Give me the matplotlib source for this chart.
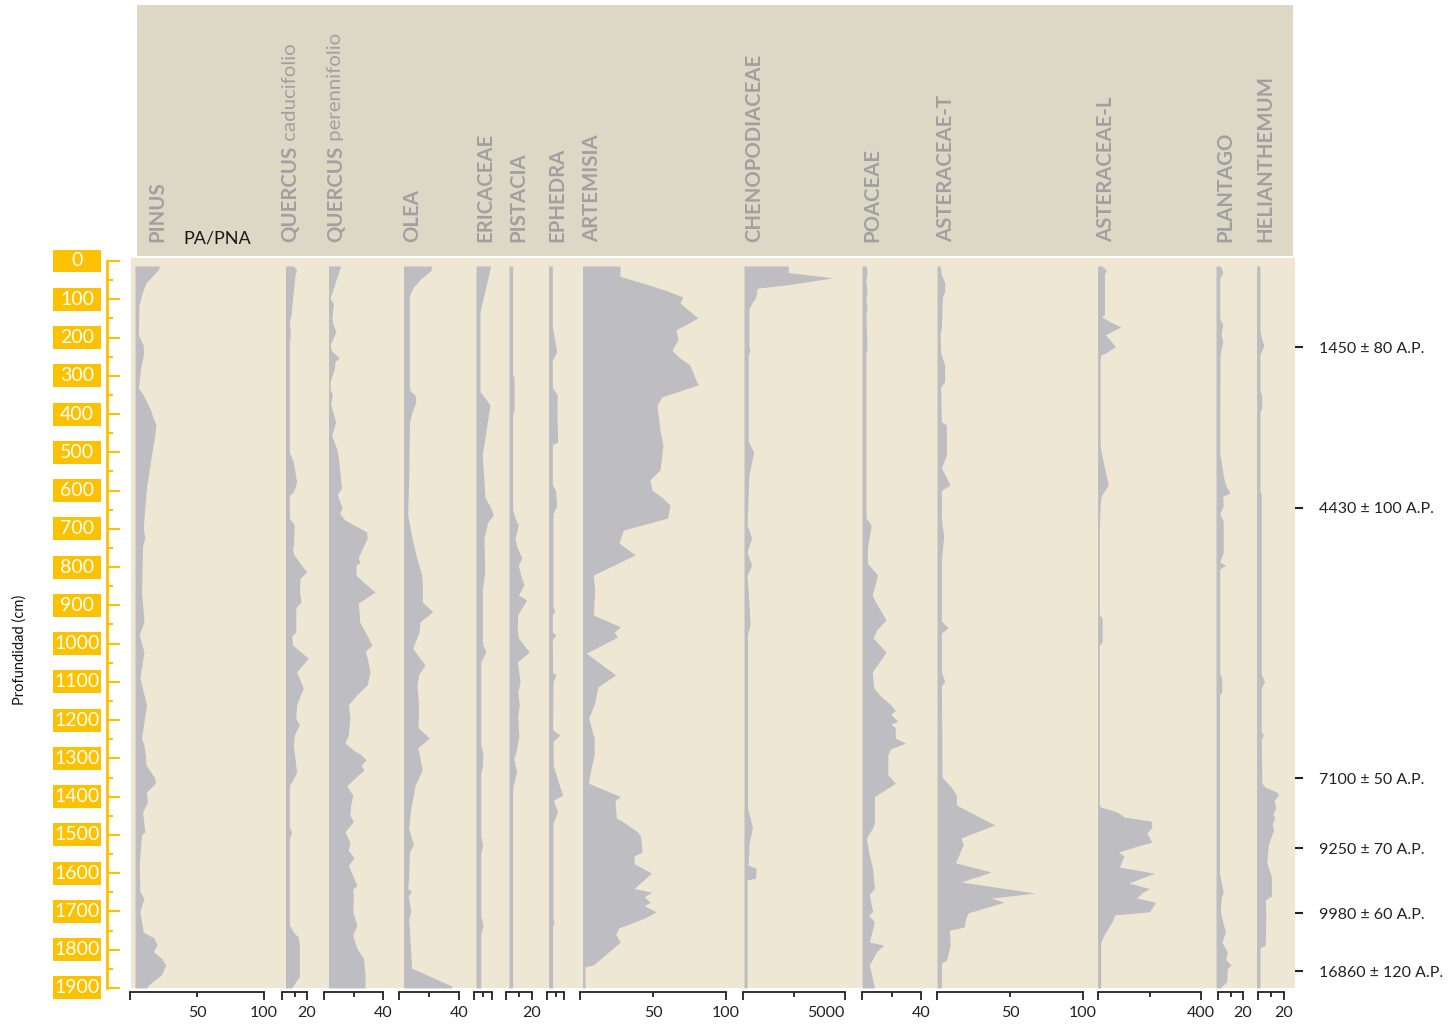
import numpy as np
import matplotlib.pyplot as plt

plt.rcParams['font.family'] = ['Lato', 'DejaVu Sans']

# (depth cm, value)
pinus = [(13, 22), (23, 21), (57, 12), (80, 9.4), (115, 6.7), (193, 6.2), (220, 9.9), (246, 10),
         (280, 7.9), (332, 6.2), (350, 9.9), (385, 14.8), (428, 19.3), (455, 18.5), (507, 16),
         (593, 12.3), (664, 10.6), (698, 9.9), (724, 11.1), (745, 9.4), (865, 8.6), (943, 10.4),
         (977, 6.9), (1022, 10.4), (1090, 7.4), (1160, 12.3), (1247, 8.6), (1265, 10.4), (1291, 11.5),
         (1317, 11.8), (1351, 18.5), (1365, 19), (1388, 12.3), (1414, 13), (1440, 9.4), (1492, 11.1),
         (1500, 8.6), (1579, 6.9), (1649, 7.4), (1665, 10.4), (1701, 7.4), (1754, 9.9), (1769, 17.8),
         (1788, 20.2), (1805, 17.3), (1822, 23.4), (1840, 26.7), (1866, 23.4), (1893, 13.6), (1900, 13)]
quercus_cad = [(13, 9.1), (23, 11.7), (35, 10.4), (141, 7.2), (160, 5.9), (186, 6.6), (200, 6.4),
               (215, 5.9), (500, 5.9), (526, 9.1), (578, 11.7), (604, 9.1), (612, 5.9), (672, 5.9),
               (690, 9.9), (742, 9.1), (755, 8.5), (768, 9.5), (813, 19.7), (830, 14.4), (865, 14),
               (891, 15.2), (907, 11), (970, 11), (980, 7.8), (1004, 8.5), (1038, 21), (1074, 11.7),
               (1116, 17), (1160, 11.7), (1195, 11), (1212, 13.9), (1239, 9.9), (1265, 9.1), (1336, 11.7),
               (1362, 7.7), (1370, 5.9), (1480, 5.9), (1492, 7.7), (1510, 5.9), (1736, 5.9), (1754, 9.1),
               (1767, 13), (1790, 13.9), (1870, 13.9), (1893, 9.1), (1900, 8)]
quercus_per = [(13, 11.3), (97, 4.1), (110, 6.3), (149, 5.4), (165, 6), (185, 8.1), (220, 4.1),
               (235, 5.2), (254, 10.4), (262, 7.5), (280, 7.1), (316, 4.1), (335, 4.1), (350, 5.6),
               (375, 4.5), (421, 7.9), (455, 5.2), (489, 8.4), (510, 9.6), (593, 11.9), (610, 9),
               (645, 12.2), (660, 10.6), (677, 14.2), (708, 28.9), (725, 29.3), (750, 26.2), (774, 23.3),
               (789, 24.2), (795, 21.7), (821, 21.7), (839, 26.7), (865, 34.6), (894, 23.3), (943, 24.2),
               (977, 28.9), (1004, 32.5), (1020, 28), (1038, 29.3), (1074, 31.2), (1108, 29.3),
               (1134, 22.2), (1160, 16.5), (1190, 17.6), (1239, 16.5), (1260, 14.2), (1278, 19.9),
               (1290, 25), (1304, 28.5), (1318, 25), (1330, 27.2), (1347, 22.2), (1372, 15.4),
               (1396, 19.5), (1422, 18.1), (1448, 17.6), (1465, 19.9), (1492, 14.2), (1519, 17.6),
               (1540, 16.5), (1560, 20.3), (1580, 16.5), (1606, 19.5), (1632, 22.2), (1642, 19.5),
               (1665, 19.9), (1700, 19.5), (1736, 22.2), (1762, 19.5), (1796, 22.2), (1822, 26.7),
               (1866, 27.8), (1900, 27.8)]
olea = [(13, 21.8), (25, 21.3), (45, 15), (68, 9.6), (90, 6.9), (332, 6.9), (340, 7.5), (350, 10.7),
        (368, 11.2), (395, 8.7), (420, 7), (560, 6.5), (664, 5.8), (724, 8.7), (776, 11.8), (821, 15.1),
        (850, 15.6), (891, 15.5), (917, 22.5), (943, 14), (970, 13.3), (1012, 9.1), (1056, 17.3),
        (1080, 13.3), (1108, 12), (1160, 13), (1220, 12.8), (1247, 20.2), (1273, 12.4), (1283, 13.3),
        (1300, 14), (1330, 15.5), (1370, 10.7), (1440, 7.5), (1482, 6.4), (1526, 9.6), (1545, 7),
        (1613, 6.4), (1640, 5.8), (1648, 8.3), (1660, 6.2), (1701, 7.8), (1720, 6.5), (1840, 8.3),
        (1848, 8.3), (1895, 35.1), (1900, 35)]
ericaceae = [(13, 13.9), (133, 5), (342, 5), (350, 7.2), (376, 13.3), (507, 6.9), (619, 9.2),
             (645, 14), (664, 16.1), (682, 11.5), (724, 8.3), (813, 9), (830, 8.3), (860, 6.9),
             (990, 6.9), (1004, 7.5), (1022, 10), (1048, 5.6), (1265, 5.6), (1285, 7.5), (1320, 7),
             (1340, 5.6), (1500, 5.6), (1526, 7.2), (1550, 5.6), (1710, 5.6), (1736, 7.5), (1760, 5.6),
             (1900, 5.6)]
pistacia = [(13, 5.1), (298, 5.1), (305, 6.2), (390, 6.2), (400, 5.1), (650, 5.1), (672, 6.9),
            (690, 9.5), (724, 6.9), (745, 8.2), (776, 12.1), (795, 9.5), (821, 11.3), (847, 13.8),
            (873, 9.5), (886, 15.9), (925, 9), (960, 8.7), (985, 9.5), (1022, 17.9), (1048, 8.7),
            (1100, 10.8), (1125, 9), (1160, 10.2), (1190, 9), (1240, 9.8), (1280, 8), (1300, 5.9),
            (1336, 8.2), (1370, 5.6), (1385, 5.1), (1900, 5.1)]
ephedra = [(13, 4.7), (170, 4.7), (186, 5.6), (238, 8.5), (260, 4.7), (330, 4.7), (350, 9.1),
           (400, 8.8), (473, 9.4), (480, 4.7), (585, 4.7), (600, 7.6), (640, 8.5), (660, 5.3),
           (900, 5.3), (917, 6.5), (925, 4.7), (970, 4.7), (977, 7.9), (990, 4.7), (1075, 5),
           (1082, 7.9), (1100, 5.3), (1225, 5), (1239, 11.5), (1255, 5.3), (1320, 5.6), (1351, 8.8),
           (1396, 13.8), (1410, 5.6), (1440, 9.4), (1470, 5.3), (1720, 5.3), (1727, 6.2), (1740, 5),
           (1900, 5)]
artemisia = [(13, 27.4), (40, 27.4), (60, 45), (76, 58.2), (94, 70.5), (110, 68.5), (149, 80.8),
             (180, 65.8), (206, 67.1), (233, 63), (254, 68.5), (272, 75.3), (324, 80.8), (355, 56.2),
             (376, 52.7), (442, 54.8), (481, 56.8), (546, 54.8), (572, 47.9), (599, 49.3), (617, 56),
             (638, 61.6), (672, 60), (703, 29.8), (737, 26.6), (768, 37.8), (821, 9.1), (860, 10),
             (925, 9.1), (956, 27.6), (970, 23.4), (983, 25.7), (1025, 4.3), (1082, 24.4), (1113, 12.3),
             (1160, 9.7), (1195, 5.9), (1247, 9.7), (1290, 9.7), (1343, 6.7), (1365, 5.9), (1400, 27.6),
             (1410, 24), (1456, 24.9), (1462, 28), (1492, 39.4), (1505, 41.6), (1545, 42.5), (1555, 37),
             (1575, 37), (1600, 49), (1640, 37), (1650, 49), (1662, 44), (1676, 48), (1685, 44),
             (1701, 52.1), (1718, 44), (1743, 26.6), (1760, 24.4), (1780, 27.6), (1840, 9.1),
             (1845, 3.4), (1900, 3.4)]
chenopodiaceae = [(13, 2216), (30, 2216), (44, 4407), (62, 2216), (71, 700), (97, 613), (110, 431),
                  (125, 289), (225, 289), (232, 343), (245, 255), (470, 255), (500, 520), (560, 289),
                  (650, 230), (690, 200), (724, 420), (760, 200), (795, 420), (821, 200), (860, 250),
                  (951, 350), (975, 220), (1430, 220), (1480, 465), (1519, 300), (1579, 250), (1587, 647),
                  (1613, 618), (1618, 200), (1900, 200)]
poaceae = [(13, 3), (35, 3.4), (50, 2.6), (80, 3.4), (95, 2.6), (125, 3.4), (140, 2.6), (227, 3.4),
           (245, 2.6), (640, 2.6), (672, 2.8), (690, 6.2), (750, 3.7), (790, 3.7), (821, 10.6),
           (873, 6.9), (890, 9), (938, 16.3), (964, 10), (985, 7.5), (1022, 16.3), (1030, 15),
           (1074, 6.9), (1116, 8), (1135, 12), (1160, 19.5), (1175, 22.6), (1185, 19.5), (1203, 24.2),
           (1210, 19.5), (1220, 22.6), (1247, 22.6), (1260, 29.6), (1275, 19.4), (1290, 17.5),
           (1343, 17.5), (1365, 22.6), (1400, 8.4), (1466, 8.4), (1480, 7.5), (1508, 3), (1545, 4.5),
           (1587, 7.2), (1640, 8.4), (1655, 5), (1701, 7.2), (1710, 4.5), (1727, 8.4), (1780, 5),
           (1788, 14.7), (1805, 10), (1840, 5), (1866, 6.5), (1900, 8.4)]
asteraceae_t = [(13, 2.2), (35, 3), (56, 5.2), (81, 5.2), (95, 3.7), (175, 3), (186, 2.2), (240, 2.5),
                (272, 5.2), (316, 5.2), (330, 2.5), (420, 3), (428, 6.4), (507, 6.4), (540, 3), (585, 8.9),
                (600, 3), (672, 3), (720, 4.6), (780, 3), (940, 3), (959, 7.5), (972, 3), (1074, 3),
                (1100, 5.3), (1110, 3), (1349, 3.5), (1377, 10), (1396, 13.3), (1422, 13.3), (1474, 39.5),
                (1508, 16.4), (1525, 18), (1573, 12.7), (1597, 37.2), (1623, 16.4), (1652, 67.5),
                (1665, 37.2), (1676, 45.8), (1704, 21.2), (1720, 19.6), (1741, 18.6), (1749, 8.5),
                (1790, 9), (1827, 6.5), (1835, 3), (1900, 3)]
asteraceae_l = [(13, 15), (23, 32.5), (35, 25), (140, 25), (146, 14), (160, 50), (172, 89), (193, 28),
                (205, 45), (224, 68), (240, 30), (246, 11), (255, 8.5), (480, 8.5), (500, 12), (585, 39.6),
                (615, 12), (640, 8.5), (700, 5), (925, 5), (933, 16), (996, 16), (1005, 5), (1420, 5),
                (1427, 10), (1440, 74), (1453, 101), (1464, 206), (1480, 210), (1495, 190), (1519, 209),
                (1530, 150), (1545, 79), (1555, 101), (1584, 83), (1600, 219), (1626, 119), (1640, 200),
                (1652, 170), (1665, 150), (1676, 224), (1701, 200), (1709, 65), (1727, 55), (1754, 29),
                (1780, 10.5), (1900, 10.5)]
plantago = [(13, 1.4), (20, 3), (31, 3.8), (45, 1.4), (150, 1.4), (167, 3.8), (190, 2.5), (212, 3.8),
            (246, 1.6), (500, 1.4), (552, 3.8), (585, 5.8), (606, 9.6), (615, 3.8), (640, 4.2),
            (660, 1.4), (680, 4.2), (760, 4.2), (787, 1.4), (795, 6), (805, 1.4), (1080, 1.4), (1090, 3),
            (1126, 3), (1135, 1.2), (1600, 1.2), (1613, 2), (1649, 4.2), (1665, 2.5), (1700, 1.8),
            (1754, 6), (1780, 3), (1806, 7.4), (1825, 6), (1840, 10.4), (1850, 7.4), (1884, 7),
            (1895, 3), (1900, 2.5)]
helianthemum = [(13, 1.5), (180, 1.5), (200, 2.5), (220, 4.5), (246, 1.5), (340, 1.5), (350, 2.8),
                (385, 2.8), (395, 1.5), (600, 1.5), (610, 2.5), (1080, 2.5), (1100, 5), (1115, 2.5),
                (1230, 2.5), (1239, 4.2), (1250, 2.5), (1365, 3), (1375, 5.5), (1388, 14.4), (1395, 15.8),
                (1410, 12.5), (1430, 13.6), (1445, 11.5), (1456, 13), (1470, 11), (1487, 12), (1526, 7.9),
                (1553, 7.3), (1571, 6.7), (1610, 10.3), (1660, 10.3), (1670, 5.6), (1709, 6), (1788, 5.5),
                (1795, 1.5), (1900, 1.5)]

series = [pinus, quercus_cad, quercus_per, olea, ericaceae, pistacia, ephedra, artemisia,
          chenopodiaceae, poaceae, asteraceae_t, asteraceae_l, plantago, helianthemum]
names = [('PINUS', ''), ('QUERCUS', ' caducifolio'), ('QUERCUS', ' perennifolio'), ('OLEA', ''),
         ('ERICACEAE', ''), ('PISTACIA', ''), ('EPHEDRA', ''), ('ARTEMISIA', ''),
         ('CHENOPODIACEAE', ''), ('POACEAE', ''), ('ASTERACEAE-T', ''), ('ASTERACEAE-L', ''),
         ('PLANTAGO', ''), ('HELIANTHEMUM', '')]
scale_max = [100, 20, 40, 40, 15, 20, 15, 100, 5000, 40, 100, 400, 20, 20]
end_labels = ['100', '20', '40', '40', '', '20', '', '100', '5000', '40', '100', '400', '20', '20']
mid_labels = ['50', '', '', '', '', '', '', '50', '', '', '50', '', '', '']

depth_ticks = list(range(0, 2000, 100))
date_depths = [225, 645, 1352, 1535, 1705, 1856]
date_labels = ['1450 ± 80 A.P.', '4430 ± 100 A.P.', '7100 ± 50 A.P.', '9250 ± 70 A.P.',
               '9980 ± 60 A.P.', '16860 ± 120 A.P.']

# layout (pixels)
col_px = [(130, 264), (282, 307), (324, 383), (399, 459), (474, 492), (506, 532), (547, 564),
          (580, 726), (743, 845), (862, 921), (937, 1083), (1098, 1201), (1218, 1243), (1258, 1284)]
inset_px = [5, 3.5, 4.5, 4.5, 2, 3, 1.5, 2.5, 1, 0, 0, -0.5, -2, -1.5]
label_dx = [27, 8, 12, 13, 11, 12, 10, 12, 11, 10, 9, 8, 7, 7]

W, H = 1455, 1025
PANEL = '#ede7d3'
HEADER = '#ddd8c5'
GREY = '#bebec2'
YELLOW = '#fcc100'
LABEL = '#a0a0a0'

fig = plt.figure(figsize=(W / 100, H / 100), dpi=100)


def px_axes(x0, y0, x1, y1, **kw):
    return fig.add_axes([x0 / W, 1 - y1 / H, (x1 - x0) / W, (y1 - y0) / H], **kw)


def depth_of(y):
    return (y - 261) / 0.3826


def set_depth(ax, y0, y1):
    ax.set_ylim(depth_of(y1), depth_of(y0))


# header band
hd = px_axes(137, 5, 1293, 256)
hd.set_facecolor(HEADER)
hd.set_xticks([])
hd.set_yticks([])
for s in hd.spines.values():
    s.set_visible(False)

# panel with the dates on its right side
bg = px_axes(131, 258, 1295, 988)
bg.set_facecolor(PANEL)
set_depth(bg, 258, 988)
for s in bg.spines.values():
    s.set_visible(False)
bg.set_xticks([])
bg.yaxis.tick_right()
bg.set_yticks(date_depths)
bg.set_yticklabels(date_labels)
bg.tick_params(axis='y', direction='out', length=6, width=1.5, color='#222222', pad=11,
               labelsize=11.5, labelcolor='#222222')

# columns
for i, data in enumerate(series):
    d = np.array(data, dtype=float)
    x0, x1 = col_px[i]
    xmax = scale_max[i]
    ax = px_axes(x0, 258, x1, 988)
    ax.patch.set_visible(False)
    ax.set_xlim(0, xmax)
    set_depth(ax, 258, 988)
    lo = inset_px[i] * xmax / (x1 - x0)
    ax.fill_betweenx(d[:, 0], lo, d[:, 1], color=GREY, lw=0, clip_on=False)
    for k in ['top', 'left', 'right']:
        ax.spines[k].set_visible(False)
    ax.spines['bottom'].set_position(('outward', 3))
    ax.spines['bottom'].set_linewidth(1.3)
    ax.spines['bottom'].set_color('#222222')
    ax.set_yticks([])
    ax.set_xticks([0, xmax])
    ax.set_xticklabels(['', end_labels[i]])
    ax.set_xticks([xmax / 2], minor=True)
    ax.set_xticklabels([mid_labels[i]], minor=True)
    ax.tick_params(axis='x', which='major', length=6, width=1.3, color='#222222', pad=4,
                   labelsize=11.5, labelcolor='#222222')
    ax.tick_params(axis='x', which='minor', length=3.3, width=1.3, color='#222222', pad=6.7,
                   labelsize=11.5, labelcolor='#222222')
    if end_labels[i] == '5000':
        ax.get_xticklabels()[1].set_ha('right')

    bold, rest = names[i]
    t = fig.text((x0 + label_dx[i]) / W, 1 - 242 / H, bold, rotation=90, ha='center', va='bottom',
                 fontsize=14.7, fontweight='bold', color=LABEL)
    if rest:
        hd.annotate(rest, xy=(0.5, 1), xycoords=t, rotation=90, ha='center', va='bottom',
                    fontsize=14.7, color=LABEL, annotation_clip=False)

fig.text(183 / W, 1 - 239 / H, 'PA/PNA', ha='left', va='center', fontsize=13, color='#1a1a1a')

# depth scale
ad = px_axes(107, 258, 121, 988)
ad.patch.set_visible(False)
set_depth(ad, 258, 988)
for k in ['top', 'bottom', 'right']:
    ad.spines[k].set_visible(False)
ad.spines['left'].set_color(YELLOW)
ad.spines['left'].set_linewidth(2)
ad.spines['left'].set_bounds(0, 1900)
ad.set_xticks([])
ad.set_yticks(depth_ticks)
ad.set_yticks([t + 50 for t in depth_ticks[:-1]], minor=True)
ad.tick_params(axis='y', which='major', direction='in', length=9.5, width=1.5, color=YELLOW,
               labelleft=False)
ad.tick_params(axis='y', which='minor', direction='in', length=4.5, width=1.5, color=YELLOW)

al = px_axes(53, 258, 101, 988)
al.axis('off')
al.set_xlim(0, 1)
set_depth(al, 258, 988)
bars = al.barh(depth_ticks, 1, height=60, color=YELLOW, lw=0)
for b in bars:
    b.set_clip_on(False)
for v in depth_ticks:
    al.text(0.5, v, str(v), ha='center', va='center', color='white', fontsize=14, clip_on=False)

fig.text(20 / W, 1 - 650 / H, 'Profundidad (cm)', rotation=90, ha='center', va='center',
         fontsize=10.5, color='#111111')

fig.savefig('out.png', dpi=100)
